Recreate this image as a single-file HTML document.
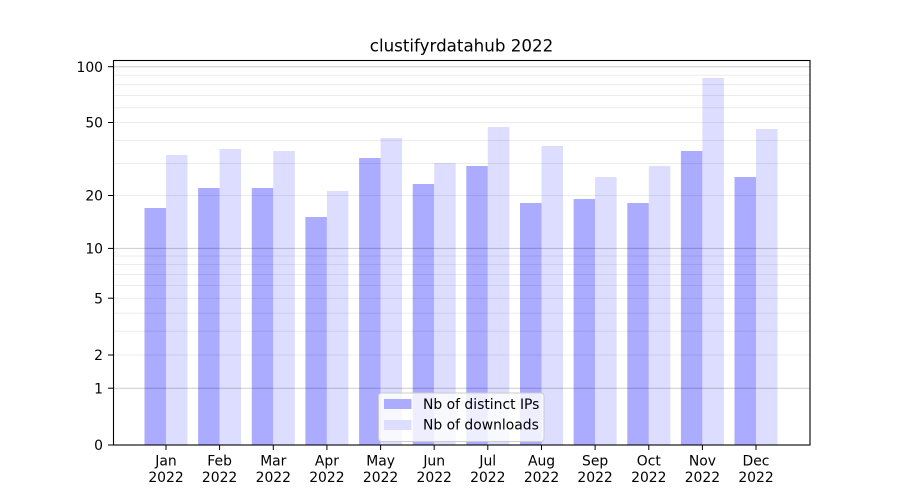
<!DOCTYPE html>
<html>
<head>
<meta charset="utf-8">
<style>
  html, body { margin: 0; padding: 0; background: #ffffff; }
  svg { display: block; }
  text { font-family: "DejaVu Sans", "Liberation Sans", sans-serif; fill: #000; }
</style>
</head>
<body>
<svg width="900" height="500" viewBox="0 0 900 500" xmlns="http://www.w3.org/2000/svg">
  <rect x="0" y="0" width="900" height="500" fill="#ffffff"/>

  <!-- Bars: distinct IPs (blue) and downloads (light) -->
  <g fill="#ababff">
    <rect x="144.5" y="208" width="21.5" height="237"/>
    <rect x="198.1" y="188" width="21.5" height="257"/>
    <rect x="251.8" y="188" width="21.5" height="257"/>
    <rect x="305.4" y="217" width="21.5" height="228"/>
    <rect x="359.1" y="158" width="21.5" height="287"/>
    <rect x="412.7" y="184" width="21.5" height="261"/>
    <rect x="466.3" y="166" width="21.5" height="279"/>
    <rect x="520.0" y="203" width="21.5" height="242"/>
    <rect x="573.6" y="199" width="21.5" height="246"/>
    <rect x="627.3" y="203" width="21.5" height="242"/>
    <rect x="680.9" y="151" width="21.5" height="294"/>
    <rect x="734.5" y="177" width="21.5" height="268"/>
  </g>
  <g fill="#ddddff">
    <rect x="166.0" y="155" width="21.5" height="290"/>
    <rect x="219.6" y="149" width="21.5" height="296"/>
    <rect x="273.3" y="151" width="21.5" height="294"/>
    <rect x="326.9" y="191" width="21.5" height="254"/>
    <rect x="380.6" y="138" width="21.5" height="307"/>
    <rect x="434.2" y="163" width="21.5" height="282"/>
    <rect x="487.8" y="127" width="21.5" height="318"/>
    <rect x="541.5" y="146" width="21.5" height="299"/>
    <rect x="595.1" y="177" width="21.5" height="268"/>
    <rect x="648.8" y="166" width="21.5" height="279"/>
    <rect x="702.4" y="78" width="21.5" height="367"/>
    <rect x="756.0" y="129" width="21.5" height="316"/>
  </g>

  <!-- Minor / light gridlines -->
  <g stroke="#000" stroke-opacity="0.075" stroke-width="1">
    <line x1="113" x2="810" y1="75.3" y2="75.3"/>
    <line x1="113" x2="810" y1="84.6" y2="84.6"/>
    <line x1="113" x2="810" y1="95.5" y2="95.5"/>
    <line x1="113" x2="810" y1="107.8" y2="107.8"/>
    <line x1="113" x2="810" y1="122.5" y2="122.5"/>
    <line x1="113" x2="810" y1="140.5" y2="140.5"/>
    <line x1="113" x2="810" y1="163.5" y2="163.5"/>
    <line x1="113" x2="810" y1="195.5" y2="195.5"/>
    <line x1="113" x2="810" y1="256.0" y2="256.0"/>
    <line x1="113" x2="810" y1="264.5" y2="264.5"/>
    <line x1="113" x2="810" y1="274.5" y2="274.5"/>
    <line x1="113" x2="810" y1="285.5" y2="285.5"/>
    <line x1="113" x2="810" y1="298.2" y2="298.2"/>
    <line x1="113" x2="810" y1="313.2" y2="313.2"/>
    <line x1="113" x2="810" y1="331.2" y2="331.2"/>
    <line x1="113" x2="810" y1="355.0" y2="355.0"/>
  </g>
  <!-- Major gridlines -->
  <g stroke="#000" stroke-opacity="0.2" stroke-width="1">
    <line x1="113" x2="810" y1="66.7" y2="66.7"/>
    <line x1="113" x2="810" y1="248.4" y2="248.4"/>
    <line x1="113" x2="810" y1="388.2" y2="388.2"/>
  </g>

  <!-- Axes spines -->
  <rect x="113.5" y="60.5" width="696.5" height="384.5" fill="none" stroke="#000" stroke-width="1.1"/>

  <!-- Y ticks -->
  <g stroke="#000" stroke-width="1">
    <line x1="108" x2="113" y1="66.7" y2="66.7"/>
    <line x1="108" x2="113" y1="122.5" y2="122.5"/>
    <line x1="108" x2="113" y1="195.5" y2="195.5"/>
    <line x1="108" x2="113" y1="248.4" y2="248.4"/>
    <line x1="108" x2="113" y1="298.2" y2="298.2"/>
    <line x1="108" x2="113" y1="355.0" y2="355.0"/>
    <line x1="108" x2="113" y1="388.2" y2="388.2"/>
    <line x1="108" x2="113" y1="445" y2="445"/>
  </g>
  <g font-size="13.9" text-anchor="end">
    <text x="103" y="71.8">100</text>
    <text x="103" y="127.6">50</text>
    <text x="103" y="200.6">20</text>
    <text x="103" y="253.5">10</text>
    <text x="103" y="303.3">5</text>
    <text x="103" y="360.1">2</text>
    <text x="103" y="393.3">1</text>
    <text x="103" y="450.1">0</text>
  </g>

  <!-- X ticks -->
  <g stroke="#000" stroke-width="1">
    <line x1="166.0" x2="166.0" y1="445" y2="450"/>
    <line x1="219.6" x2="219.6" y1="445" y2="450"/>
    <line x1="273.3" x2="273.3" y1="445" y2="450"/>
    <line x1="326.9" x2="326.9" y1="445" y2="450"/>
    <line x1="380.6" x2="380.6" y1="445" y2="450"/>
    <line x1="434.2" x2="434.2" y1="445" y2="450"/>
    <line x1="487.8" x2="487.8" y1="445" y2="450"/>
    <line x1="541.5" x2="541.5" y1="445" y2="450"/>
    <line x1="595.1" x2="595.1" y1="445" y2="450"/>
    <line x1="648.8" x2="648.8" y1="445" y2="450"/>
    <line x1="702.4" x2="702.4" y1="445" y2="450"/>
    <line x1="756.0" x2="756.0" y1="445" y2="450"/>
  </g>
  <g font-size="13.9" text-anchor="middle">
    <text x="166.0" y="465.7">Jan</text><text x="166.0" y="482.2">2022</text>
    <text x="219.6" y="465.7">Feb</text><text x="219.6" y="482.2">2022</text>
    <text x="273.3" y="465.7">Mar</text><text x="273.3" y="482.2">2022</text>
    <text x="326.9" y="465.7">Apr</text><text x="326.9" y="482.2">2022</text>
    <text x="380.6" y="465.7">May</text><text x="380.6" y="482.2">2022</text>
    <text x="434.2" y="465.7">Jun</text><text x="434.2" y="482.2">2022</text>
    <text x="487.8" y="465.7">Jul</text><text x="487.8" y="482.2">2022</text>
    <text x="541.5" y="465.7">Aug</text><text x="541.5" y="482.2">2022</text>
    <text x="595.1" y="465.7">Sep</text><text x="595.1" y="482.2">2022</text>
    <text x="648.8" y="465.7">Oct</text><text x="648.8" y="482.2">2022</text>
    <text x="702.4" y="465.7">Nov</text><text x="702.4" y="482.2">2022</text>
    <text x="756.0" y="465.7">Dec</text><text x="756.0" y="482.2">2022</text>
  </g>

  <!-- Title -->
  <text x="461.5" y="51.7" font-size="16.7" text-anchor="middle">clustifyrdatahub 2022</text>

  <!-- Legend -->
  <rect x="378.5" y="393" width="165.5" height="48.5" rx="3" ry="3" fill="#ffffff" fill-opacity="0.8" stroke="#cccccc" stroke-width="1"/>
  <rect x="384" y="399" width="27.5" height="10" fill="#ababff"/>
  <rect x="384" y="420" width="27.5" height="10" fill="#ddddff"/>
  <text x="423" y="409.2" font-size="13.9">Nb of distinct IPs</text>
  <text x="423" y="429.5" font-size="13.9">Nb of downloads</text>
</svg>
</body>
</html>
